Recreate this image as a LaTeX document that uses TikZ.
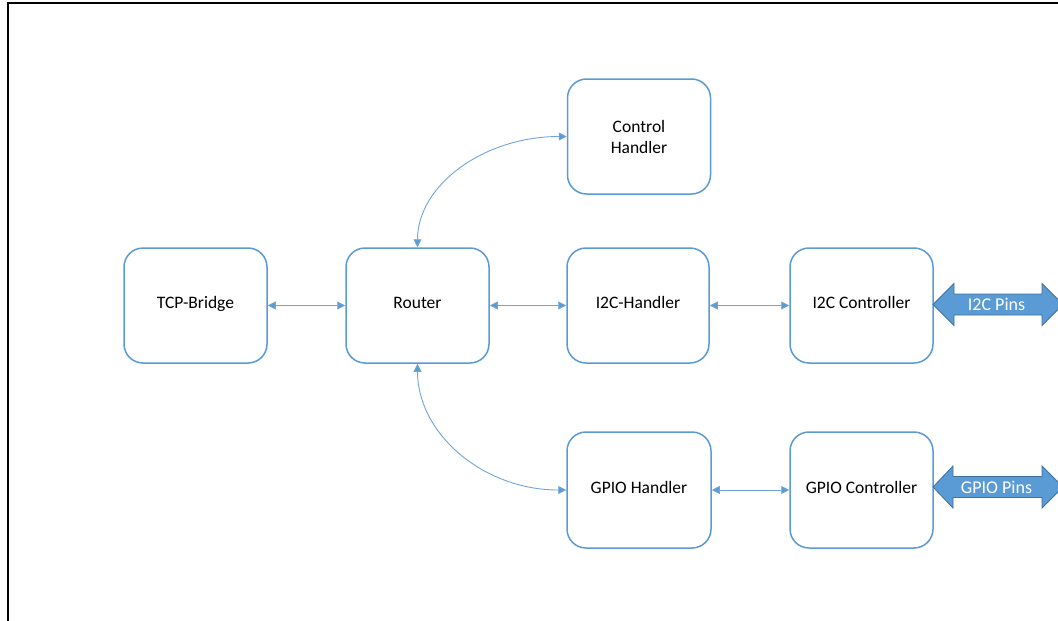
\documentclass[tikz,border=0pt]{standalone}
\usepackage{fontspec}
\setmainfont{Carlito}
\usetikzlibrary{arrows.meta}
\definecolor{boxblue}{HTML}{5B9BD5}
\definecolor{linkblue}{HTML}{6FA6DA}
\definecolor{pinedge}{HTML}{41719C}
\tikzset{
  block/.style={draw=boxblue, line width=1.5pt, rounded corners=19pt,
    minimum width=143pt, minimum height=115pt, inner sep=0pt,
    align=center, font=\fontsize{17.5}{21}\selectfont, text=black,
    text depth=6pt},
  link/.style={draw=linkblue, line width=0.9pt,
    {Triangle[length=8pt,width=8pt,fill=boxblue]}-{Triangle[length=8pt,width=8pt,fill=boxblue]}},
  pinarrow/.style={fill=boxblue, draw=pinedge, line width=0.8pt, line join=miter},
  pinlabel/.style={text=white, font=\fontsize{18}{20}\selectfont, inner sep=0pt}
}
\begin{document}
\begin{tikzpicture}[x=1pt, y=-1pt]
  \useasboundingbox (0,0) rectangle (1058,621);
  \clip (0,0) rectangle (1058,621);
  \fill[white] (0,0) rectangle (1058,621);

  % frame of the page (left and top edges)
  \draw[black, line width=2pt] (7.5,625) -- (7.5,2.5) -- (1062,2.5);

  % functional blocks
  \node[block, text depth=] (ctrl) at (639,136.5) {Control\\Handler};
  \node[block] (tcp)    at (195.5,305.5) {TCP-Bridge};
  \node[block] (router) at (417.5,305.5) {Router};
  \node[block, minimum width=142pt] (i2ch) at (638,305.5) {I2C-Handler};
  \node[block] (i2cc)   at (861.5,305.5) {I2C Controller};
  \node[block, minimum width=144pt, minimum height=116pt] (gpioh) at (639,490) {GPIO Handler};
  \node[block, minimum height=116pt] (gpioc) at (861.5,490) {GPIO Controller};

  % straight links
  \draw[link] (tcp.east)   -- (router.west);
  \draw[link] (router.east) -- (i2ch.west);
  \draw[link] (i2ch.east)  -- (i2cc.west);
  \draw[link] (gpioh.east) -- (gpioc.west);

  % curved links from the router
  \draw[link] (router.north) .. controls +(0,-62) and +(-83,0) .. (ctrl.west);
  \draw[link] (router.south) .. controls +(0,70) and +(-83,0) .. (gpioh.west);

  % pin arrows
  \coordinate (i2cpin) at (933,304.5);
  \coordinate (gpiopin) at (933,487);
  \draw[pinarrow] (i2cpin) -- ++(21,-21) -- ++(0,10.5) -- ++(88,0) -- ++(0,-10.5)
    -- ++(21,21) -- ++(-21,21) -- ++(0,-10.5) -- ++(-88,0) -- ++(0,10.5) -- cycle;
  \node[pinlabel] (i2clabel) at (996.5,304) {I2C Pins};
  \draw[pinarrow] (gpiopin) -- ++(20,-21) -- ++(0,10.5) -- ++(89,0) -- ++(0,-10.5)
    -- ++(21,21) -- ++(-21,21) -- ++(0,-10.5) -- ++(-89,0) -- ++(0,10.5) -- cycle;
  \node[pinlabel] (gpiolabel) at (996.5,487) {GPIO Pins};
\end{tikzpicture}
\end{document}
